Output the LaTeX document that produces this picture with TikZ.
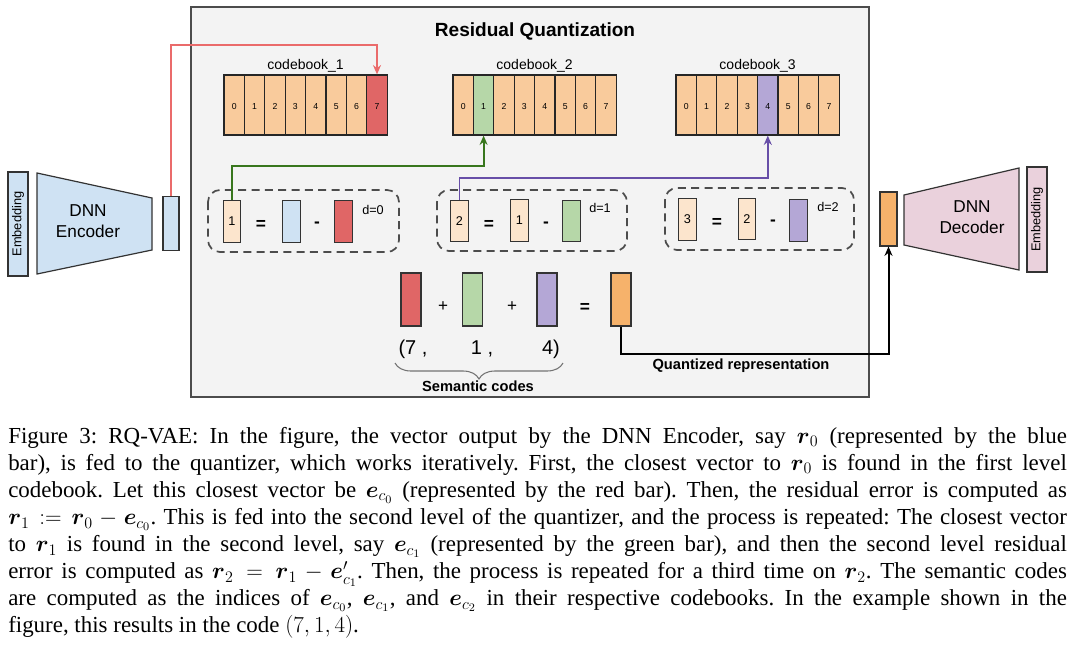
\documentclass[tikz,border=0pt]{standalone}
\usepackage{fix-cm}
\usepackage{amsmath,amssymb}
\usepackage{fontspec}
\setmainfont{Liberation Serif}
\setsansfont{Liberation Sans}
\usetikzlibrary{
  arrows.meta,
  calc,
  positioning,
  decorations.pathreplacing
}
\definecolor{panelgray}{HTML}{F3F3F3}
\definecolor{cbpeach}{HTML}{F9CB9C}
\definecolor{respeach}{HTML}{FCE5CD}
\definecolor{cbred}{HTML}{E06666}
\definecolor{cbgreen}{HTML}{B6D7A8}
\definecolor{cbpurple}{HTML}{B4A7D6}
\definecolor{encblue}{HTML}{CFE2F3}
\definecolor{decpink}{HTML}{EAD1DC}
\definecolor{quantorange}{HTML}{F6B26B}
\definecolor{linered}{HTML}{EA6B6B}
\definecolor{linegreen}{HTML}{38761D}
\definecolor{linepurple}{HTML}{674EA7}
\newcommand{\bsym}[1]{\boldsymbol{#1}}

\begin{document}
\begin{tikzpicture}[x=0.75pt,y=-0.75pt,font=\sffamily,
  cell/.style={draw=black!85, line width=0.9pt, fill=cbpeach, inner sep=0pt,
    minimum width=15.3pt, minimum height=45pt, text height=1.5ex, text depth=0pt,
    font=\sffamily\fontsize{6.5}{7}\selectfont},
  cblabel/.style={font=\sffamily\fontsize{10.5}{12}\selectfont},
  bar/.style={draw=black!80, line width=0.8pt, inner sep=0pt,
    minimum width=13pt, minimum height=31pt, font=\sffamily\fontsize{9.5}{10}\selectfont},
  sumbar/.style={draw=black!80, line width=0.8pt, inner sep=0pt,
    minimum width=15pt, minimum height=39.75pt},
  embbox/.style={draw=black!80, line width=0.9pt, rotate=90, inner sep=0pt,
    minimum width=78pt, minimum height=15pt, font=\sffamily\fontsize{9.6}{11}\selectfont},
  trap/.style={draw=black!80, line width=0.9pt},
  dnntxt/.style={align=center, font=\sffamily\fontsize{12.9}{15.75}\selectfont},
  dashbox/.style={draw=black!70, line width=1.3pt, dash pattern=on 6pt off 4pt, rounded corners=9pt},
  op/.style={font=\sffamily\bfseries\fontsize{13}{14}\selectfont},
  plusop/.style={font=\sffamily\fontsize{12.8}{14}\selectfont},
  dlabel/.style={font=\sffamily\fontsize{9.5}{11}\selectfont},
  codetxt/.style={font=\sffamily\fontsize{15}{17}\selectfont},
  boldtxt/.style={font=\sffamily\bfseries\fontsize{11}{13}\selectfont},
  redline/.style={draw=linered, line width=1.4pt, -{Stealth[length=7pt,width=6pt]}},
  greenline/.style={draw=linegreen, line width=1.4pt, -{Stealth[length=7pt,width=6pt]}},
  purpleline/.style={draw=linepurple, line width=1.4pt, -{Stealth[length=7pt,width=6pt]}},
  qline/.style={draw=black, line width=1.5pt, -{Stealth[length=7pt,width=6pt]}}
]
  \useasboundingbox (0,0) rectangle (1080,650);

  % Residual quantization panel
  \draw[draw=black!70, fill=panelgray, line width=0.8pt] (191,7) rectangle (869,397);
  \node[font=\sffamily\bfseries\fontsize{14.3}{16}\selectfont] (rqtitle) at (535,31) {Residual Quantization};

  % Codebooks (8 entries each, one picked)
  \foreach \cb/\xl/\sel/\col in {1/224/7/cbred, 2/453/1/cbgreen, 3/676/4/cbpurple} {
    \foreach \i in {0,...,7}
      \node[cell] (cb\cb-\i) at (\xl+10.2+20.4*\i, 105) {\i};
    \node[cell, fill=\col] (cb\cb-\sel) at (\xl+10.2+20.4*\sel, 105) {\sel};
    \node[cblabel] (cblab\cb) at (\xl+81.6, 66) {codebook\_\cb};
  }

  % Encoder side
  \node[embbox, fill=encblue] (embin) at (18,224) {Embedding};
  \draw[trap, fill=encblue] (37,173) -- (152,198) -- (152,250) -- (37,274) -- cycle;
  \node[dnntxt] (enc) at (88,221) {DNN\\Encoder};
  \node[bar, fill=encblue, minimum width=12pt, minimum height=40pt] (encout) at (171,223.5) {};

  % Level d=0
  \draw[dashbox] (208,190) rectangle (399,252);
  \node[bar, fill=respeach] (res1) at (232,221.5) {1};
  \node[op] (eq0) at (261,225) {=};
  \node[bar, fill=encblue] (r0bar) at (291.5,221.5) {};
  \node[op] (mi0) at (317,225) {-};
  \node[bar, fill=cbred] (e0bar) at (343.5,221.5) {};
  \node[dlabel] (d0) at (373,210) {d=0};

  % Level d=1
  \draw[dashbox] (437,190) rectangle (627,251);
  \node[bar, fill=respeach] (res2) at (459.5,221) {2};
  \node[op] (eq1) at (489,225) {=};
  \node[bar, fill=respeach] (res1b) at (519.5,220.5) {1};
  \node[op] (mi1) at (546,225) {-};
  \node[bar, fill=cbgreen] (e1bar) at (571.5,221) {};
  \node[dlabel] (d1) at (600,208) {d=1};

  % Level d=2
  \draw[dashbox] (665,188) rectangle (854,250);
  \node[bar, fill=respeach] (res3) at (687.5,219.5) {3};
  \node[op] (eq2) at (717,223) {=};
  \node[bar, fill=respeach] (res2b) at (747,219) {2};
  \node[op] (mi2) at (773,223) {-};
  \node[bar, fill=cbpurple] (e2bar) at (798.5,220.5) {};
  \node[dlabel] (d2) at (828,207) {d=2};

  % Lookups into the codebooks
  \coordinate (redbend) at ($(cb1-7.north)+(0,-29)$);
  \draw[redline] (encout.north) |- (redbend) -- (cb1-7.north);
  \coordinate (greenbend) at ($(cb2-1.south)+(0,30)$);
  \draw[greenline] (res1.north) |- (greenbend) -- (cb2-1.south);
  \coordinate (purplebend) at ($(cb3-4.south)+(0,42)$);
  \draw[purpleline] (res2.north) |- (purplebend) -- (cb3-4.south);

  % Sum of picked entries
  \node[sumbar, fill=cbred] (sumred) at (411,299.5) {};
  \node[plusop] (plus1) at (443,307) {+};
  \node[sumbar, fill=cbgreen] (sumgreen) at (472.5,299.5) {};
  \node[plusop] (plus2) at (512,307) {+};
  \node[sumbar, fill=cbpurple] (sumpurple) at (547,299.5) {};
  \node[op] (eqsum) at (585,308) {=};
  \node[sumbar, fill=quantorange] (quant) at (621,299.5) {};

  % Semantic codes
  \node[codetxt] (code7) at (413,349) {(7 ,};
  \node[codetxt] (code1) at (482,349) {1 ,};
  \node[codetxt] (code4) at (551,349) {4)};
  \draw[draw=black!55, line width=0.8pt, decorate, decoration={brace, mirror, amplitude=12pt}]
    (395,363) -- (563,363);
  \node[boldtxt] (semlab) at (478,386) {Semantic codes};

  % Decoder side
  \node[bar, fill=quantorange, minimum width=12.75pt, minimum height=40.5pt] (decin) at (888.5,219) {};
  \draw[trap, fill=decpink] (904,195) -- (1019,168) -- (1019,270) -- (904,245) -- cycle;
  \node[dnntxt] (dec) at (972,217) {DNN\\Decoder};
  \node[embbox, fill=decpink, minimum width=78.75pt] (embout) at (1037,219.5) {Embedding};

  % Quantized representation to decoder
  \coordinate (qbend) at ($(decin.south)+(0,107)$);
  \draw[qline] (quant.south) |- (qbend) -- (decin.south);
  \node[boldtxt] (qlab) at (741,366) {Quantized representation};

  % Caption
  \node[anchor=north west, inner sep=0pt, text width=794pt, align=justify,
    font=\rmfamily\fontsize{17.2}{20.3}\selectfont\frenchspacing] (caption) at (8,427) {%
    Figure 3: RQ-VAE: In the figure, the vector output by the DNN Encoder, say $\bsym{r}_0$ (represented by the blue\linebreak
    bar), is fed to the quantizer, which works iteratively. First, the closest vector to $\bsym{r}_0$ is found in the first level\linebreak
    codebook. Let this closest vector be $\bsym{e}_{c_0}$ (represented by the red bar). Then, the residual error is computed as\linebreak
    $\bsym{r}_1 := \bsym{r}_0 - \bsym{e}_{c_0}$. This is fed into the second level of the quantizer, and the process is repeated: The closest vector\linebreak
    to $\bsym{r}_1$ is found in the second level, say $\bsym{e}_{c_1}$ (represented by the green bar), and then the second level residual\linebreak
    error is computed as $\bsym{r}_2 = \bsym{r}_1 - \bsym{e}'_{c_1}$. Then, the process is repeated for a third time on $\bsym{r}_2$. The semantic codes\linebreak
    are computed as the indices of $\bsym{e}_{c_0}$, $\bsym{e}_{c_1}$, and $\bsym{e}_{c_2}$ in their respective codebooks. In the example shown in the\linebreak
    figure, this results in the code $(7, 1, 4)$.};
\end{tikzpicture}
\end{document}
